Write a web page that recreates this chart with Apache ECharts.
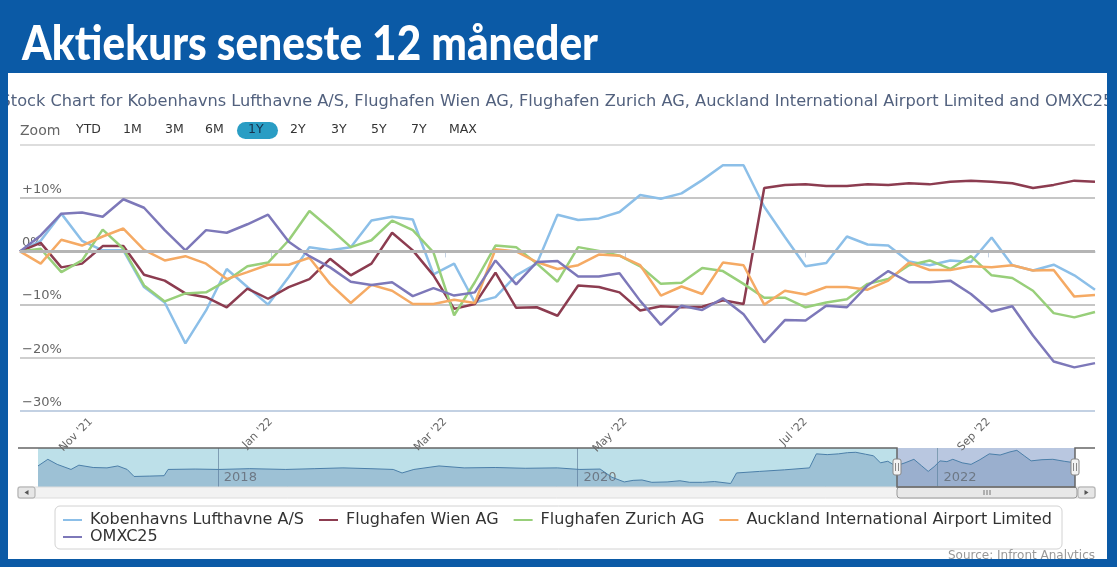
<!DOCTYPE html>
<html><head><meta charset="utf-8">
<script src="https://cdn.jsdelivr.net/npm/echarts@6/dist/echarts.min.js"></script>
<style>html,body{margin:0;padding:0;background:#0b5aa6;}#c{width:1117px;height:567px;}</style>
</head><body><div id="c"></div>
<script>
// ---------- data ----------
const dates = ['2021-10-08','2021-10-15','2021-10-22','2021-10-29','2021-11-05','2021-11-12','2021-11-19','2021-11-26',
'2021-12-03','2021-12-10','2021-12-17','2021-12-24','2021-12-31','2022-01-07','2022-01-14','2022-01-21','2022-01-28',
'2022-02-04','2022-02-11','2022-02-18','2022-02-25','2022-03-04','2022-03-11','2022-03-18','2022-03-25','2022-04-01',
'2022-04-08','2022-04-15','2022-04-22','2022-04-29','2022-05-06','2022-05-13','2022-05-20','2022-05-27','2022-06-03',
'2022-06-10','2022-06-17','2022-06-24','2022-07-01','2022-07-08','2022-07-15','2022-07-22','2022-07-29','2022-08-05',
'2022-08-12','2022-08-19','2022-08-26','2022-09-02','2022-09-09','2022-09-16','2022-09-23','2022-09-30','2022-10-07'];
const kobenhavns = [0,2,7.1,2,0.2,0.2,-6.7,-9.6,-17.3,-11.1,-3.3,-6.7,-10,-4.8,0.8,0.2,0.8,5.8,6.5,6.0,-4.3,-2.3,-9.6,-8.6,-4.5,-2.3,6.9,5.9,6.2,7.4,10.6,9.9,10.9,13.4,16.2,16.2,8.4,2.7,-2.8,-2.2,2.8,1.3,1.1,-1.9,-2.6,-1.7,-2.0,2.6,-2.6,-3.6,-2.5,-4.5,-7.2];
const wien = [0,1.6,-3.0,-2.3,1.0,1.0,-4.4,-5.5,-7.9,-8.6,-10.5,-7.0,-8.9,-6.7,-5.2,-1.4,-4.5,-2.3,3.5,0.2,-4.5,-10.8,-9.9,-4.0,-10.6,-10.5,-12.1,-6.4,-6.7,-7.7,-11.1,-10.3,-10.5,-10.4,-9.2,-9.9,11.9,12.5,12.6,12.3,12.3,12.6,12.5,12.8,12.6,13.1,13.3,13.1,12.8,11.9,12.5,13.3,13.1];
const zurich = [0,0.5,-3.9,-1.7,4.1,0.5,-6.4,-9.4,-7.9,-7.7,-5.5,-2.8,-2.1,2.1,7.6,4.3,0.8,2.1,5.8,4.0,-0.2,-12.0,-5.8,1.1,0.8,-2.3,-5.7,0.8,0.1,-0.8,-2.8,-6.1,-5.9,-3.1,-3.7,-6.1,-8.7,-8.7,-10.5,-9.6,-9.0,-6.1,-5.2,-2.6,-1.7,-3.3,-0.9,-4.5,-5.0,-7.4,-11.6,-12.4,-11.4];
const auckland = [0,-2.3,2.2,1.1,2.8,4.3,0.3,-1.7,-0.9,-2.3,-5.2,-3.9,-2.5,-2.5,-1.2,-6.1,-9.7,-6.3,-7.4,-9.9,-9.9,-9.1,-9.7,0.4,0,-2.0,-3.3,-2.6,-0.6,-0.8,-2.6,-8.3,-6.6,-8.0,-2.1,-2.6,-10.0,-7.4,-8.1,-6.7,-6.7,-7.2,-5.5,-2.1,-3.5,-3.5,-2.8,-3.0,-2.6,-3.6,-3.5,-8.5,-8.2];
const omxc25 = [0,3,7.1,7.3,6.5,9.8,8.2,4.0,0.2,4.0,3.5,5.1,6.9,1.8,-0.9,-3.0,-5.7,-6.3,-5.8,-8.4,-6.9,-8.3,-7.7,-1.7,-6.2,-2.0,-1.8,-4.7,-4.7,-4.1,-9.3,-13.8,-10.2,-11.0,-8.8,-11.8,-17.1,-12.9,-13.0,-10.2,-10.5,-6.4,-3.7,-5.8,-5.8,-5.5,-8.0,-11.3,-10.3,-15.8,-20.7,-21.8,-21.0];
const seriesNames = ['Kobenhavns Lufthavne A/S','Flughafen Wien AG','Flughafen Zurich AG','Auckland International Airport Limited','OMXC25'];
const seriesColors = ['#8cbfe8','#8c3c50','#98cf7a','#f5aa64','#7d78b9'];
const xTickDates = ['2021-11-01','2022-01-01','2022-03-01','2022-05-01','2022-07-01','2022-09-01'];
const monthNames = ['Jan','Feb','Mar','Apr','May','Jun','Jul','Aug','Sep','Oct','Nov','Dec'];
const navDates = ['2017-01-01','2017-01-21','2017-02-09','2017-03-09','2017-03-25','2017-04-23','2017-05-21','2017-06-12','2017-07-01','2017-07-15','2017-08-16','2017-09-14','2017-09-22','2017-11-16','2018-01-03','2018-03-07','2018-05-19','2018-07-17','2018-09-12','2018-11-06','2018-12-23','2019-01-10','2019-02-03','2019-03-26','2019-05-16','2019-07-18','2019-09-17','2019-11-21','2020-01-06','2020-02-16','2020-03-11','2020-04-05','2020-04-23','2020-05-11','2020-05-31','2020-07-01','2020-07-27','2020-08-16','2020-09-11','2020-10-05','2020-11-07','2020-11-19','2021-01-05','2021-02-24','2021-04-16','2021-04-30','2021-05-22','2021-06-14','2021-07-02','2021-07-19','2021-08-08','2021-08-24','2021-09-07','2021-09-22','2021-10-08','2021-10-27','2021-11-14','2021-11-29','2021-12-13','2021-12-25','2022-01-06','2022-01-20','2022-02-01','2022-02-20','2022-03-10','2022-03-28','2022-04-16','2022-05-08','2022-05-28','2022-06-11','2022-06-26','2022-07-10','2022-08-01','2022-08-23','2022-09-15','2022-10-07'];
const navValues = [54,71,58,45,56,50,49,54,45,27,28,29,45,46,45,47,45,47,49,47,45,36,45,54,49,50,48,49,45,46,25,13,17,18,12,13,16,12,12,14,9,36,40,44,49,85,83,85,88,89,84,80,62,66,54,62,71,55,40,52,67,65,71,62,58,70,85,82,90,94,80,67,70,71,66,62];
const navTickDates = ['2018-01-01','2020-01-01','2022-01-01'];
const zoomButtons = ['YTD','1M','3M','6M','1Y','2Y','3Y','5Y','7Y','MAX'];
const titleText = 'Aktiekurs seneste 12 måneder';
const subtitleText = 'Stock Chart for Kobenhavns Lufthavne A/S, Flughafen Wien AG, Flughafen Zurich AG, Auckland International Airport Limited and OMXC25';
const sourceText = 'Source: Infront Analytics';

// ---------- helpers ----------
function toTs(s){const p=s.split('-').map(Number);return new Date(p[0],p[1]-1,p[2]).getTime();}
function measure(text,font){const c=document.createElement('canvas').getContext('2d');c.font=font;return c.measureText(text).width;}
const values = [kobenhavns,wien,zurich,auckland,omxc25];
const F = 'DejaVu Sans';

const titleFont = '900 48px Lato';
const titleScale = 576 / measure(titleText, titleFont);

const btnX = [76,123,165,205,248,290,331,371,411,449];
const gfx = [];
gfx.push({type:'rect',z:-10,shape:{x:8,y:73,width:1099,height:486},style:{fill:'#ffffff'}});
gfx.push({type:'text',z:1,x:557,y:102,style:{text:subtitleText,font:'16.2px "DejaVu Sans"',fill:'#52617e',align:'center',verticalAlign:'middle'}});
gfx.push({type:'text',z:1,x:20,y:131,style:{text:'Zoom',font:'14px "DejaVu Sans"',fill:'#666',verticalAlign:'middle'}});
zoomButtons.forEach((b,i)=>{
  if(b==='1Y'){
    gfx.push({type:'rect',z:1,shape:{x:237,y:122,width:41,height:17,r:8.5},style:{fill:'#2a9dc4'}});
  }
  gfx.push({type:'text',z:2,x:btnX[i],y:130,style:{text:b,font:'12.5px "DejaVu Sans"',fill:b==='1Y'?'#17324d':'#333',verticalAlign:'middle'}});
});
// navigator backgrounds
gfx.push({type:'rect',z:-4,shape:{x:38,y:448,width:859,height:39},style:{fill:'#bde0e9'}});
gfx.push({type:'rect',z:-4,shape:{x:897,y:448,width:178,height:39},style:{fill:'#b9c7e0'}});
gfx.push({type:'polyline',z:20,shape:{points:[[18,448],[897,448],[897,487],[1075,487],[1075,448],[1095,448]]},style:{stroke:'#666',lineWidth:1.5,fill:null}});
[897,1075].forEach(h=>{
  gfx.push({type:'rect',z:21,shape:{x:h-4,y:459,width:8,height:16,r:2},style:{fill:'#f2f2f2',stroke:'#888',lineWidth:1}});
  gfx.push({type:'line',z:22,shape:{x1:h-1.5,y1:463,x2:h-1.5,y2:471},style:{stroke:'#888',lineWidth:1}});
  gfx.push({type:'line',z:22,shape:{x1:h+1.5,y1:463,x2:h+1.5,y2:471},style:{stroke:'#888',lineWidth:1}});
});
// scrollbar
gfx.push({type:'rect',z:5,shape:{x:18,y:487,width:1077,height:11},style:{fill:'#f2f2f2',stroke:'#dcdcdc',lineWidth:1}});
gfx.push({type:'rect',z:6,shape:{x:18,y:487,width:17,height:11,r:2},style:{fill:'#e6e6e6',stroke:'#aaa',lineWidth:1}});
gfx.push({type:'polygon',z:7,shape:{points:[[24.5,492.5],[28.5,490],[28.5,495]]},style:{fill:'#555'}});
gfx.push({type:'rect',z:6,shape:{x:1078,y:487,width:17,height:11,r:2},style:{fill:'#e6e6e6',stroke:'#aaa',lineWidth:1}});
gfx.push({type:'polygon',z:7,shape:{points:[[1088.5,492.5],[1084.5,490],[1084.5,495]]},style:{fill:'#555'}});
gfx.push({type:'rect',z:6,shape:{x:897,y:487,width:180,height:11,r:3},style:{fill:'#e8e8e8',stroke:'#999',lineWidth:1}});
[-3,0,3].forEach(d=>gfx.push({type:'line',z:7,shape:{x1:987+d,y1:490,x2:987+d,y2:495},style:{stroke:'#777',lineWidth:1}}));
// legend box
gfx.push({type:'rect',z:-3,shape:{x:55,y:506,width:1007,height:43,r:5},style:{fill:'#fff',stroke:'#d2d2d2',lineWidth:1}});
gfx.push({type:'text',z:1,x:1095,y:556,style:{text:sourceText,font:'12px "DejaVu Sans"',fill:'#999',align:'right',verticalAlign:'middle'}});
// blue frame
gfx.push({type:'rect',z:50,shape:{x:0,y:0,width:1117,height:73},style:{fill:'#0b5aa6'}});
gfx.push({type:'rect',z:50,shape:{x:0,y:0,width:8,height:567},style:{fill:'#0b5aa6'}});
gfx.push({type:'rect',z:50,shape:{x:1107,y:0,width:10,height:567},style:{fill:'#0b5aa6'}});
gfx.push({type:'rect',z:50,shape:{x:0,y:559,width:1117,height:8},style:{fill:'#0b5aa6'}});
gfx.push({type:'text',z:51,x:22,y:45,scaleX:titleScale,style:{text:titleText,font:titleFont,fill:'#ffffff',verticalAlign:'middle'}});

const lineSeries = seriesNames.map((n,k)=>({
  name:n,type:'line',xAxisIndex:0,yAxisIndex:0,showSymbol:false,symbol:'none',
  lineStyle:{width:2.5,color:seriesColors[k]},itemStyle:{color:seriesColors[k]},
  data:dates.map((d,i)=>[toTs(d),values[k][i]])
}));

const option = {
  animation:false,
  backgroundColor:'transparent',
  graphic:{elements:gfx},
  legend:[
    {data:seriesNames.slice(0,4),left:63,top:512,padding:0,itemGap:15,icon:'rect',itemWidth:19,itemHeight:2,
     textStyle:{fontFamily:F,fontSize:16,color:'#333',padding:[0,0,0,3]}},
    {data:seriesNames.slice(4),left:63,top:529,padding:0,itemGap:15,icon:'rect',itemWidth:19,itemHeight:2,
     textStyle:{fontFamily:F,fontSize:16,color:'#333',padding:[0,0,0,3]}}
  ],
  grid:[
    {left:20,right:22,top:145,height:266},
    {left:38,right:42,top:448,height:39}
  ],
  xAxis:[
    {type:'value',gridIndex:0,min:toTs(dates[0]),max:toTs(dates[dates.length-1]),
     axisLine:{lineStyle:{color:'#c3d1e3',width:1.5}},
     axisTick:{show:true,length:6,lineStyle:{color:'#c3d1e3'},customValues:xTickDates.map(toTs)},
     axisLabel:{rotate:45,fontFamily:F,fontSize:11,color:'#666',margin:9,customValues:xTickDates.map(toTs),
       formatter:v=>{const d=new Date(v);return monthNames[d.getMonth()]+" '"+String(d.getFullYear()).slice(2);}},
     splitLine:{show:false}},
    {type:'value',gridIndex:1,min:toTs('2017-01-01'),max:toTs('2022-10-07'),
     axisLine:{show:false},
     axisTick:{show:false,customValues:navTickDates.map(toTs)},
     axisLabel:{inside:true,align:'left',margin:3,padding:[0,0,0,6],fontFamily:F,fontSize:13,color:'#7a7a7a',
       customValues:navTickDates.map(toTs),formatter:v=>String(new Date(v).getFullYear())},
     splitLine:{show:true,lineStyle:{color:'#7f9db3',width:1}}}
  ],
  yAxis:[
    {type:'value',gridIndex:0,min:-30,max:20,interval:10,
     axisLine:{show:false},axisTick:{show:false},
     axisLabel:{inside:true,margin:2,verticalAlign:'bottom',padding:[0,0,2,0],fontFamily:F,fontSize:13,color:'#666',
       showMaxLabel:false,
       formatter:v=>v>0?('+'+v+'%'):(v<0?('\u2212'+Math.abs(v)+'%'):'0%')},
     splitLine:{lineStyle:{color:['#c3d1e3','#cfcfcf','#c6c6c6','#bdbdbd','#c6c6c6','#dddddd'],width:2}}},
    {type:'value',gridIndex:1,min:0,max:100,show:false,splitLine:{show:false}}
  ],
  series:[
    {name:'zero',type:'line',data:[],z:1,xAxisIndex:0,yAxisIndex:0,
     markLine:{silent:true,symbol:'none',label:{show:false},data:[{yAxis:0}],lineStyle:{color:'#b5b5b5',width:3,type:'solid'}}},
    ...lineSeries,
    {name:'navigator',type:'line',xAxisIndex:1,yAxisIndex:1,showSymbol:false,symbol:'none',
     lineStyle:{width:1,color:'#4b7fa9'},areaStyle:{color:'rgba(74,116,160,0.4)'},
     data:navDates.map((d,i)=>[toTs(d),navValues[i]])}
  ]
};
const chart = echarts.init(document.getElementById('c'),null,{renderer:'canvas'});
chart.setOption(option);
</script></body></html>
